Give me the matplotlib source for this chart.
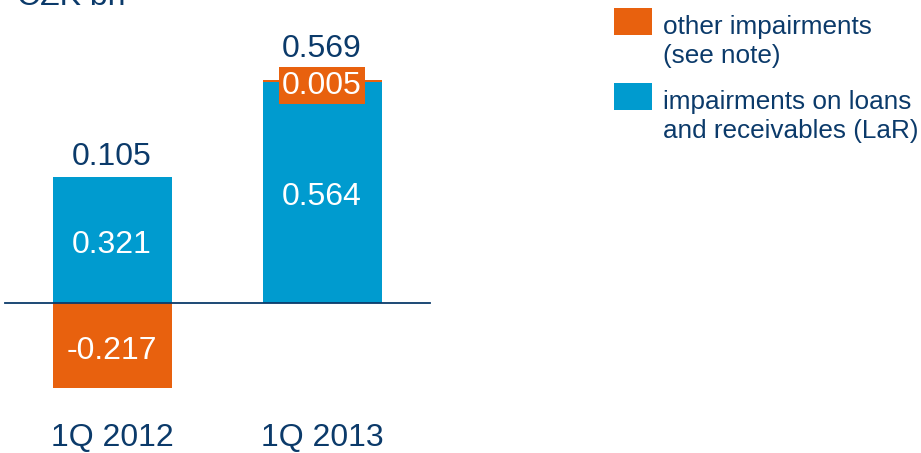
import matplotlib
matplotlib.use('Agg')
import matplotlib.pyplot as plt
from matplotlib.patches import Rectangle

plt.rcParams['font.family'] = ['Liberation Sans', 'DejaVu Sans']

periods = ['1Q 2012', '1Q 2013']
lar = [0.321, 0.564]
other = [-0.217, 0.005]
totals = [0.105, 0.569]

blue = '#009BCF'
orange = '#E8610E'
navy = '#0B3A6A'

fig = plt.figure(figsize=(9.21, 4.53), dpi=100)
ax = fig.add_axes([0, 0, 1, 1])
ax.axis('off')

# pixel-based layout: 210 px between bars, ~392 px per unit
px_x, px_y = 210.0, 392.5
ax.set_xlim(-112 / px_x, (921 - 112) / px_x)
ax.set_ylim(-(453 - 303) / px_y, 303 / px_y)

x = list(range(len(periods)))
w = 119 / px_x
ax.bar(x, lar, width=w, color=blue, zorder=2)
bottoms = [0 if o < 0 else l for o, l in zip(other, lar)]
ax.bar(x, other, width=w, bottom=bottoms, color=orange, zorder=2)
ax.plot([-107 / px_x, 318 / px_x], [0, 0], color=navy, lw=1.3, zorder=3)

fs = 23

def seg_label(xi, yv, txt, **kw):
    ax.annotate(txt, (xi, yv), xytext=(0, -5), textcoords='offset pixels',
                color='white', fontsize=fs, ha='center', va='center', zorder=4, **kw)

# segment labels
for i in x:
    seg_label(i, lar[i] / 2, f'{lar[i]:.3f}')
seg_label(0, other[0] / 2, f'{other[0]:.3f}')
seg_label(1, lar[1] + other[1] / 2, f'{other[1]:.3f}',
          bbox=dict(boxstyle='square,pad=0.1', fc=orange, ec='none'))

# totals above the bars
tops = [max(l, l + o) for l, o in zip(lar, other)]
offs = [20, 31]
for i in x:
    ax.annotate(f'{totals[i]:.3f}', (i, tops[i]), xytext=(0, offs[i]),
                textcoords='offset pixels', color=navy, fontsize=fs,
                ha='center', va='center')

for i in x:
    ax.text(i, -(438 - 303) / px_y, periods[i], color=navy, fontsize=fs,
            ha='center', va='center')

fig.text(17 / 921, 1 - 5 / 453, 'CZK bn', color=navy, fontsize=fs,
         ha='left', va='baseline')

# legend
leg = [(orange, 'other impairments\n(see note)', 8),
       (blue, 'impairments on loans\nand receivables (LaR)', 83)]
for col, lab, top in leg:
    fig.patches.append(Rectangle((614 / 921, 1 - (top + 27) / 453), 38 / 921, 27 / 453,
                                 transform=fig.transFigure, fc=col, ec='none'))
    fig.text(663 / 921, 1 - (top + 7) / 453, lab, color=navy, fontsize=18.8,
             ha='left', va='top', linespacing=1.25)

fig.savefig('out.png', dpi=100)
